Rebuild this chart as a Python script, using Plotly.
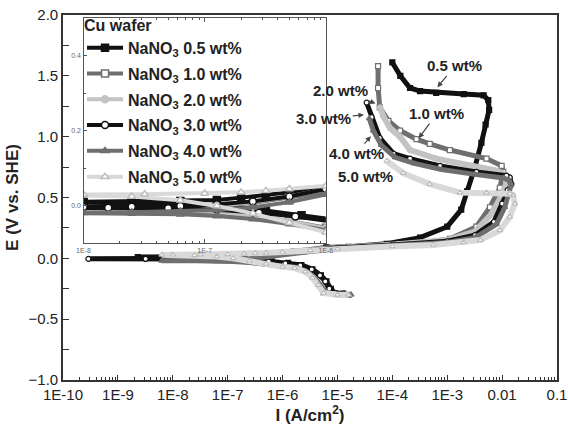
import plotly.graph_objects as go

# ---------------- data (current density A/cm2, potential V vs SHE) ----------------
legend_title = "Cu wafer"
series_names = ["NaNO<sub>3</sub> 0.5 wt%", "NaNO<sub>3</sub> 1.0 wt%", "NaNO<sub>3</sub> 2.0 wt%",
                "NaNO<sub>3</sub> 3.0 wt%", "NaNO<sub>3</sub> 4.0 wt%", "NaNO<sub>3</sub> 5.0 wt%"]
curve_labels = ["0.5 wt%", "1.0 wt%", "2.0 wt%", "3.0 wt%", "4.0 wt%", "5.0 wt%"]

I_05 = [1.26e-5, 8.9e-6, 7.6e-6, 6.3e-6, 5.0e-6, 3.5e-6, 2.2e-6, 1.26e-6, 6.3e-7, 3.2e-7, 1.6e-7, 6.3e-8, 2.5e-8, 1.0e-8, 2.3e-9,
        1.0e-8, 2.5e-8, 6.3e-8, 1.26e-7, 2.0e-7, 3.2e-7, 5.0e-7, 7.9e-7, 1.6e-6, 6.3e-6, 1.6e-5, 7.9e-5, 3.2e-4, 1.0e-3,
        1.8e-3, 2.3e-3, 3.2e-3, 4.2e-3, 5.0e-3, 5.8e-3, 5.6e-3, 4.6e-3, 2.0e-3, 6.3e-4, 3.2e-4, 2.1e-4, 1.4e-4, 1.0e-4]
E_05 = [-0.29, -0.285, -0.25, -0.19, -0.14, -0.09, -0.055, -0.038, -0.025, -0.012, 0.0, 0.006, 0.009, 0.010, 0.010,
        0.011, 0.012, 0.013, 0.016, 0.022, 0.030, 0.036, 0.042, 0.055, 0.090, 0.095, 0.12, 0.17, 0.26,
        0.40, 0.55, 0.75, 0.95, 1.10, 1.22, 1.30, 1.34, 1.35, 1.36, 1.375, 1.40, 1.50, 1.61]

I_10 = [1.6e-5, 1.0e-5, 5.6e-6, 4.7e-6, 3.8e-6, 2.8e-6, 1.8e-6, 1.0e-6, 5.0e-7, 2.5e-7, 1.26e-7, 6.3e-8, 2.5e-8, 1.0e-8, 6.3e-9,
        1.0e-8, 2.5e-8, 6.3e-8, 1.26e-7, 2.5e-7, 5.0e-7, 1.0e-6, 2.5e-6, 6.3e-6, 1.7e-5, 5.0e-5, 1.38e-4, 4.0e-4, 1.12e-3,
        3.4e-3, 6.0e-3, 9.1e-3, 1.05e-2, 9.8e-3, 5.2e-3, 1.12e-3, 4.8e-4, 2.75e-4, 1.38e-4, 8.5e-5, 5.9e-5, 5.5e-5, 5.5e-5]
E_10 = [-0.30, -0.295, -0.28, -0.22, -0.16, -0.11, -0.075, -0.058, -0.04, -0.027, -0.019, -0.015, -0.012, -0.011, -0.011,
        -0.010, -0.009, -0.006, -0.001, 0.008, 0.022, 0.04, 0.06, 0.075, 0.09, 0.10, 0.115, 0.13, 0.16,
        0.26, 0.42, 0.58, 0.71, 0.76, 0.82, 0.89, 0.94, 0.98, 1.05, 1.13, 1.24, 1.40, 1.58]

I_20 = [1.4e-5, 1.0e-5, 6.0e-6, 5.0e-6, 4.0e-6, 3.0e-6, 2.0e-6, 1.0e-6, 5.0e-7, 2.5e-7, 1.26e-7, 6.3e-8, 2.5e-8, 7.9e-9,
        1.0e-8, 2.5e-8, 6.3e-8, 1.26e-7, 2.5e-7, 5.0e-7, 1.0e-6, 2.5e-6, 6.3e-6, 1.6e-5, 1.26e-4, 1.0e-3, 3.2e-3,
        6.3e-3, 1.0e-2, 1.2e-2, 1.12e-2, 7.9e-3, 2.5e-3, 6.3e-4, 2.1e-4, 1.38e-4, 9.1e-5, 6.8e-5, 6.0e-5]
E_20 = [-0.30, -0.295, -0.28, -0.23, -0.17, -0.12, -0.08, -0.06, -0.04, -0.026, -0.016, -0.011, -0.009, -0.008,
        -0.007, -0.006, -0.004, 0.0, 0.01, 0.025, 0.045, 0.065, 0.078, 0.088, 0.115, 0.15, 0.22,
        0.36, 0.52, 0.62, 0.69, 0.72, 0.76, 0.82, 0.89, 1.0, 1.07, 1.17, 1.24]

I_30 = [1.32e-5, 8.9e-6, 7.1e-6, 6.0e-6, 4.8e-6, 3.4e-6, 2.1e-6, 1.12e-6, 5.6e-7, 2.8e-7, 1.26e-7, 5.0e-8, 1.6e-8, 3.2e-9, 2.9e-10,
        3.2e-9, 1.0e-8, 2.5e-8, 6.3e-8, 1.26e-7, 2.5e-7, 5.0e-7, 1.0e-6, 3.2e-6, 1.0e-5, 1.0e-4, 1.0e-3, 3.2e-3,
        7.1e-3, 1.0e-2, 1.26e-2, 1.48e-2, 1.38e-2, 1.2e-2, 3.4e-3, 7.4e-4, 2.1e-4, 1.05e-4, 5.9e-5, 4.2e-5, 3.4e-5]
E_30 = [-0.29, -0.285, -0.25, -0.19, -0.14, -0.09, -0.058, -0.042, -0.028, -0.018, -0.010, -0.006, -0.005, -0.004, -0.004,
        -0.004, -0.003, -0.002, 0.0, 0.004, 0.012, 0.025, 0.045, 0.065, 0.085, 0.11, 0.14, 0.19,
        0.30, 0.45, 0.56, 0.61, 0.665, 0.68, 0.71, 0.76, 0.82, 0.86, 0.99, 1.16, 1.28]

I_40 = [1.78e-5, 1.12e-5, 6.3e-6, 5.0e-6, 4.0e-6, 3.0e-6, 1.9e-6, 1.0e-6, 5.0e-7, 2.5e-7, 1.26e-7, 6.3e-8, 2.5e-8, 6.3e-9,
        1.0e-8, 2.5e-8, 6.3e-8, 1.26e-7, 2.5e-7, 5.0e-7, 1.0e-6, 3.2e-6, 1.0e-5, 1.0e-4, 1.0e-3, 3.2e-3,
        7.9e-3, 1.12e-2, 1.35e-2, 1.45e-2, 1.32e-2, 1.05e-2, 3.2e-3, 7.9e-4, 2.5e-4, 1.12e-4, 6.3e-5, 4.5e-5, 3.8e-5]
E_40 = [-0.30, -0.30, -0.285, -0.23, -0.17, -0.12, -0.08, -0.065, -0.048, -0.035, -0.027, -0.022, -0.02, -0.019,
        -0.018, -0.017, -0.015, -0.011, -0.004, 0.01, 0.03, 0.055, 0.078, 0.105, 0.13, 0.17,
        0.28, 0.42, 0.54, 0.60, 0.645, 0.66, 0.69, 0.73, 0.78, 0.83, 0.93, 1.05, 1.15]

I_50 = [1.6e-5, 1.0e-5, 5.6e-6, 4.5e-6, 3.5e-6, 2.6e-6, 1.66e-6, 1.0e-6, 5.0e-7, 2.5e-7, 1.26e-7, 6.3e-8, 2.5e-8, 6.3e-9,
        1.0e-8, 3.2e-8, 1.0e-7, 2.0e-7, 3.2e-7, 5.0e-7, 1.0e-6, 3.2e-6, 1.0e-5, 1.0e-4, 5.6e-4, 2.0e-3, 4.0e-3,
        9.1e-3, 1.38e-2, 1.7e-2, 1.58e-2, 1.38e-2, 5.2e-3, 1.7e-3, 4.8e-4, 1.58e-4, 7.9e-5]
E_50 = [-0.30, -0.30, -0.285, -0.22, -0.16, -0.11, -0.08, -0.07, -0.045, -0.02, 0.0, 0.015, 0.025, 0.029,
        0.030, 0.031, 0.033, 0.036, 0.040, 0.045, 0.052, 0.065, 0.078, 0.098, 0.11, 0.13, 0.15,
        0.23, 0.34, 0.45, 0.52, 0.53, 0.54, 0.54, 0.61, 0.70, 0.80]

x_tickvals = [1e-10, 1e-9, 1e-8, 1e-7, 1e-6, 1e-5, 1e-4, 1e-3, 1e-2, 1e-1]
x_ticktext = ["1E-10", "1E-9", "1E-8", "1E-7", "1E-6", "1E-5", "1E-4", "1E-3", "0.01", "0.1"]
inset_x_tickvals = [1e-8, 1e-7, 1e-6]
inset_x_ticktext = ["1E-8", "1E-7", "1E-6"]

# ---------------- styles ----------------
data = [(I_05, E_05), (I_10, E_10), (I_20, E_20), (I_30, E_30), (I_40, E_40), (I_50, E_50)]
BLACK, DARK, LIGHT, LIGHTER = "#111111", "#6f6f6f", "#c3c3c3", "#d9d9d9"
styles = [
    dict(lc=BLACK, sym="square", mfill=BLACK, mline=BLACK, w=5),
    dict(lc=DARK, sym="square", mfill="white", mline=DARK, w=5),
    dict(lc=LIGHT, sym="circle", mfill=LIGHT, mline=LIGHT, w=6),
    dict(lc=BLACK, sym="circle", mfill="white", mline=BLACK, w=5),
    dict(lc=DARK, sym="triangle-up", mfill=DARK, mline=DARK, w=5),
    dict(lc=LIGHTER, sym="triangle-up", mfill="white", mline="#bdbdbd", w=6),
]

fig = go.Figure()
for (I, E), st in zip(data, styles):
    fig.add_trace(go.Scatter(
        x=I, y=E, mode="lines+markers", showlegend=False,
        line=dict(color=st["lc"], width=st["w"]),
        marker=dict(symbol=st["sym"], size=5, color=st["mfill"], line=dict(color=st["mline"], width=1.2)),
        xaxis="x", yaxis="y"))
for (I, E), st, nm in zip(data, styles, series_names):
    fig.add_trace(go.Scatter(
        x=I, y=E, mode="lines+markers", name=nm, legendgroup=nm,
        line=dict(color=st["lc"], width=4),
        marker=dict(symbol=st["sym"], size=7, color=st["mfill"], line=dict(color=st["mline"], width=1.5)),
        xaxis="x2", yaxis="y2"))

minor_main = [m * d for d in x_tickvals[:-1] for m in range(2, 10)]
minor_inset = [m * d for d in inset_x_tickvals[:-1] for m in range(2, 10)]

AX = "#333333"
IN = "#555555"
fig.update_layout(
    width=568, height=432,
    margin=dict(l=63, r=11, t=14, b=52),
    paper_bgcolor="white", plot_bgcolor="white",
    font=dict(family="Liberation Sans, Arial, sans-serif", color="#222222", size=15),
    xaxis=dict(type="log", range=[-10, -1], tickvals=x_tickvals, ticktext=x_ticktext, automargin=False,
               ticks="inside", ticklen=5, tickcolor=AX, showline=True, linecolor=AX, linewidth=1.6,
               mirror=True, showgrid=False, zeroline=False, tickfont=dict(size=15),
               minor=dict(tickvals=minor_main, ticks="inside", ticklen=3, tickcolor=AX, showgrid=False),
               title=dict(text="<b>I (A/cm<sup>2</sup>)</b>", font=dict(size=17), standoff=4)),
    yaxis=dict(range=[-1, 2], dtick=0.5, tickformat=".1f", ticks="inside", ticklen=6, tickcolor=AX,
               showline=True, linecolor=AX, linewidth=1.6, mirror=True, showgrid=False, zeroline=False,
               tickfont=dict(size=15), automargin=False,
               minor=dict(dtick=0.25, ticks="inside", ticklen=6, tickcolor=AX, showgrid=False),
               title=dict(text="<b>E (V vs. SHE)</b>", font=dict(size=17), standoff=6)),
    xaxis2=dict(type="log", range=[-8, -6], domain=[0.0415, 0.532], anchor="y2", automargin=False,
                tickvals=inset_x_tickvals, ticktext=inset_x_ticktext, ticks="inside", ticklen=4,
                tickcolor=IN, showline=True, linecolor=IN, linewidth=1.2, mirror="allticks",
                showgrid=False, zeroline=False, tickfont=dict(size=7, color="#666"),
                minor=dict(tickvals=minor_inset, ticks="inside", ticklen=2, tickcolor=IN, showgrid=False)),
    yaxis2=dict(range=[-0.1, 0.5], domain=[0.374, 0.992], anchor="x2", automargin=False,
                tickvals=[0.0, 0.2, 0.4], tickformat=".1f", ticks="inside", ticklen=3, tickcolor=IN,
                showline=True, linecolor=IN, linewidth=1.2, mirror=True, showgrid=False, zeroline=False,
                tickfont=dict(size=7, color="#666"),
                minor=dict(dtick=0.1, ticks="inside", ticklen=2, tickcolor=IN, showgrid=False)),
    legend=dict(x=0.0385, y=1.011, xanchor="left", yanchor="top", bgcolor="rgba(0,0,0,0)",
                font=dict(size=16, weight="bold", color="#222"), tracegroupgap=2, itemwidth=36,
                title=dict(text=legend_title, font=dict(size=16, weight="bold", color="#222"))),
)

# curve labels with arrows (positions in axis units: log10(I), V)
label_pos = [(-2.86, 1.582), (-3.19, 1.19), (-4.94, 1.38), (-5.25, 1.15), (-4.66, 0.86), (-4.48, 0.67)]
arrow_tip = [(-3.19, 1.40), (-3.53, 0.98), (-4.29, 1.27), (-4.50, 1.18), (-4.38, 1.01), (-4.13, 0.76)]
for txt, (lx, ly), (hx, hy) in zip(curve_labels, label_pos, arrow_tip):
    fig.add_annotation(x=hx, y=hy, ax=lx, ay=ly, xref="x", yref="y", axref="x", ayref="y",
                       text="<b>%s</b>" % txt, font=dict(size=15, color="#222"),
                       showarrow=True, arrowhead=2, arrowsize=0.9, arrowwidth=1.2, arrowcolor="#444",
                       standoff=1)

# remove the default 8px page margin so the figure sits at the window's top-left corner
fig.write_html("out.html", config={"displayModeBar": False},
               post_script="document.body.style.margin='0px';")
